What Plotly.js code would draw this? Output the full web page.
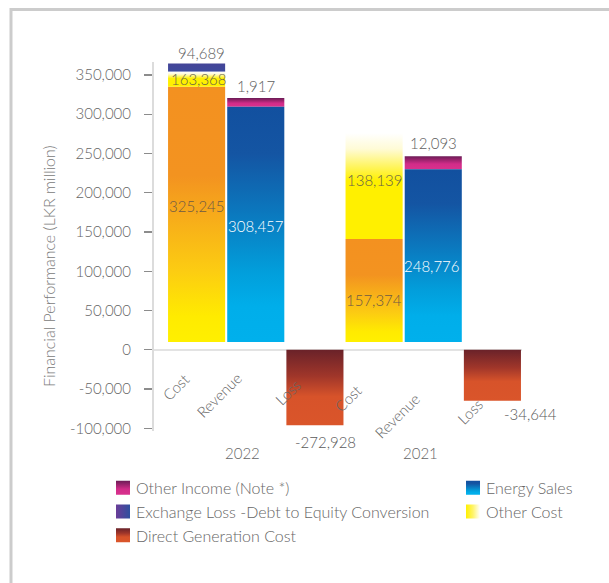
<!DOCTYPE html>
<html>
<head>
<meta charset="utf-8">
<script src="https://cdn.plot.ly/plotly-3.0.1.min.js"></script>
<style>
  html, body { margin: 0; padding: 0; background: #ffffff; }
  #chart { width: 609px; height: 583px; }
</style>
</head>
<body>
<div id="chart"></div>
<script>
// ---------------- DATA ----------------
var categories = ['Cost', 'Revenue', 'Loss', 'Cost', 'Revenue', 'Loss'];
var years = ['2022', '2021'];

// drawn bar heights (LKR million, as drawn in the reference graphic)
var positiveBase = 10000;
var directGenerationCost = [325000, 131000];
var otherCost = [19000, 135000];
var exchangeLoss = [10500, 0];
var energySales = [299500, 220000];
var otherIncome = [11000, 16500];
var loss = [-96000, -65000];

// printed value labels
var directGenerationCostLabels = ['325,245', '157,374'];
var otherCostLabels = ['163,368', '138,139'];
var exchangeLossLabels = ['94,689', ''];
var energySalesLabels = ['308,457', '248,776'];
var otherIncomeLabels = ['1,917', '12,093'];
var lossLabels = ['-272,928', '-34,644'];

// axis ticks
var yTickVals = [-100000, -50000, 0, 50000, 100000, 150000, 200000, 250000, 300000, 350000];
var yTickText = ['-100,000', '-50,000', '0', '50,000', '100,000', '150,000', '200,000', '250,000', '300,000', '350,000'];
var yTitle = 'Financial Performance (LKR million)';

// ---------------- BUILD ----------------
var costX = [0, 3], revX = [1, 4], lossX = [2, 5];
function add(a, b) { return a.map(function (v, i) { return v + b[i]; }); }
var baseArr = [positiveBase, positiveBase];
var otherCostBase = add(baseArr, directGenerationCost);
var exchBase = add(otherCostBase, otherCost);
var incomeBase = add(baseArr, energySales);

var BW = 0.965;
var FONT = 'Lato, "Open Sans", sans-serif';
var WT = 300;
function F(size, color) { return { family: FONT, size: size, color: color, weight: WT }; }

var data = [
  { type: 'bar', name: 'Other Income (Note *)', x: revX, y: otherIncome, base: incomeBase,
    width: BW, marker: { color: '#C02A80', line: { width: 0 } }, legend: 'legend', legendrank: 1, hoverinfo: 'skip' },
  { type: 'bar', name: 'Exchange Loss -Debt to Equity Conversion', x: costX, y: exchangeLoss, base: exchBase,
    width: BW, marker: { color: '#424799', line: { width: 0 } }, legend: 'legend', legendrank: 2, hoverinfo: 'skip' },
  { type: 'bar', name: 'Direct Generation Cost', x: costX, y: directGenerationCost, base: baseArr,
    width: BW, marker: { color: '#F39120', line: { width: 0 } }, legend: 'legend', legendrank: 3, hoverinfo: 'skip' },
  { type: 'bar', name: 'Energy Sales', x: revX, y: energySales, base: baseArr,
    width: BW, marker: { color: '#0B78BE', line: { width: 0 } }, legend: 'legend2', legendrank: 4, hoverinfo: 'skip' },
  { type: 'bar', name: 'Other Cost', x: costX, y: otherCost, base: otherCostBase,
    width: BW, marker: { color: '#FFF000', line: { width: 0 } }, legend: 'legend2', legendrank: 5, hoverinfo: 'skip' },
  { type: 'bar', name: 'Loss', x: lossX, y: loss, base: [0, 0],
    width: BW, marker: { color: '#C84B2A', line: { width: 0 } }, showlegend: false, hoverinfo: 'skip' }
];

var annotations = [];
function lab(text, x, y, opts) {
  var a = { text: text, x: x, y: y, xref: 'x', yref: 'y', showarrow: false,
    font: F(15, '#5e5e5e'), xanchor: 'center', yanchor: 'middle' };
  for (var k in opts) a[k] = opts[k];
  annotations.push(a);
}
// value labels
lab(exchangeLossLabels[0], costX[0], exchBase[0] + exchangeLoss[0], { yanchor: 'bottom', xshift: 5, yshift: 0 });
lab(otherIncomeLabels[0], revX[0], incomeBase[0] + otherIncome[0], { yanchor: 'bottom', yshift: 1 });
lab(otherIncomeLabels[1], revX[1], incomeBase[1] + otherIncome[1], { yanchor: 'bottom', yshift: 2 });
lab(otherCostLabels[0], costX[0], otherCostBase[0] + otherCost[0] / 2, { xshift: 2, font: F(15, '#66624a') });
lab(otherCostLabels[1], costX[1], otherCostBase[1] + otherCost[1] / 2, { xshift: 1, yshift: 6, font: F(15, '#66624a') });
lab(directGenerationCostLabels[0], costX[0], positiveBase + directGenerationCost[0] / 2, { yshift: 8, font: F(15, '#6e5a44') });
lab(directGenerationCostLabels[1], costX[1], positiveBase + directGenerationCost[1] / 2, { yshift: -9.5, font: F(15, '#6e5a44') });
lab(energySalesLabels[0], revX[0], positiveBase + energySales[0] / 2, { yshift: -2, font: { family: FONT, size: 15, color: '#ffffff' } });
lab(energySalesLabels[1], revX[1], positiveBase + energySales[1] / 2, { yshift: -10, xshift: -1, font: { family: FONT, size: 15, color: '#ffffff' } });
lab(lossLabels[0], lossX[0], loss[0], { yanchor: 'top', yshift: -6, xshift: 11, font: { family: FONT, size: 15, color: '#5a5a5a' } });
lab(lossLabels[1], lossX[1], loss[1], { yanchor: 'top', yshift: -2, xshift: 38.5, font: { family: FONT, size: 15, color: '#5a5a5a' } });

// category labels (rotated)
var catShift = [[-21, 37.4], [-37, 45], [-27, 42.5], [-26, 48.3], [-36.7, 65.8], [-22, 61.5]];
categories.forEach(function (c, i) {
  lab(c, i, 0, { textangle: -45, xshift: catShift[i][0], yshift: -catShift[i][1], font: F(15, '#666666') });
});
// year labels
years.forEach(function (yr, i) {
  annotations.push({ text: yr, x: revX[i], xshift: -13, xref: 'x', y: -0.0596, yref: 'paper', showarrow: false,
    xanchor: 'center', yanchor: 'middle', font: F(15, '#666666') });
});
// y axis title
annotations.push({ text: yTitle, textangle: -90, x: -0.288, y: 0.447, xref: 'paper', yref: 'paper', showarrow: false,
  xanchor: 'center', yanchor: 'middle', font: F(16, '#7a7a7a') });

var layout = {
  width: 609, height: 583,
  margin: { l: 154, r: 87, t: 62, b: 152 },
  paper_bgcolor: '#ffffff', plot_bgcolor: 'rgba(0,0,0,0)',
  font: F(15, '#666666'),
  barmode: 'overlay',
  showlegend: true,
  xaxis: { range: [-0.72, 5.5], showticklabels: false, showline: false, zeroline: false, showgrid: false, ticks: '', fixedrange: true },
  yaxis: { range: [-103400, 366500], tickmode: 'array', tickvals: yTickVals, ticktext: yTickText,
    ticks: 'outside', ticklen: 8, tickwidth: 1.3, tickcolor: '#8c8c8c', ticklabelstandoff: 10,
    showline: true, linecolor: '#dcdcdc', linewidth: 2,
    zeroline: true, zerolinecolor: '#e3e3e3', zerolinewidth: 2, showgrid: false,
    tickfont: F(15, '#666666'), fixedrange: true },
  legend: { x: -0.1576, y: -0.108, xanchor: 'left', yanchor: 'top', orientation: 'v', traceorder: 'normal',
    bgcolor: 'rgba(0,0,0,0)', font: F(16, '#666666') },
  legend2: { x: 0.7935, y: -0.108, xanchor: 'left', yanchor: 'top', orientation: 'v', traceorder: 'normal',
    bgcolor: 'rgba(0,0,0,0)', font: F(16, '#666666') },
  shapes: [
    { type: 'rect', xref: 'paper', yref: 'paper', x0: -0.3886, x1: 1.32, y0: -0.566, y1: 1.142,
      line: { color: '#cccccc', width: 3 }, fillcolor: 'rgba(0,0,0,0)', layer: 'below' }
  ],
  annotations: annotations
};

var gradients = {
  gDGC: { dir: 'v', stops: [[0, '#F39120'], [0.35, '#F39320'], [0.72, '#FCCC12'], [0.9, '#FFEB00'], [1, '#FFF000']] },
  gOther: { dir: 'v', stops: [[0, '#FFFFFF'], [0.15, '#FFFBD6'], [0.45, '#FFF000'], [1, '#FFF000']] },
  gExch: { dir: 'v', stops: [[0, '#444598'], [1, '#3D4A9C']] },
  gInc: { dir: 'v', stops: [[0, '#6C1B56'], [0.6, '#D22C89'], [1, '#D8318D']] },
  gES: { dir: 'v', stops: [[0, '#12509F'], [0.2, '#1455A3'], [0.45, '#0B78BE'], [0.7, '#029EDB'], [0.85, '#00AEEA'], [1, '#00B0EC']] },
  gLoss: { dir: 'v', stops: [[0, '#6A2229'], [0.35, '#A0362A'], [0.62, '#D7532A'], [1, '#DA552A']] },
  gExchLeg: { dir: 'h', stops: [[0, '#6B3D98'], [1, '#2E509F']] },
  gOtherLeg: { dir: 'h', stops: [[0, '#FFF000'], [0.5, '#FFF46A'], [1, '#FFFFFF']] }
};
var barGrad = {
  'Other Income (Note *)': 'gInc', 'Exchange Loss -Debt to Equity Conversion': 'gExch',
  'Direct Generation Cost': 'gDGC', 'Energy Sales': 'gES', 'Other Cost': 'gOther', 'Loss': 'gLoss'
};
var legGrad = {
  'Other Income (Note *)': 'gInc', 'Exchange Loss -Debt to Equity Conversion': 'gExchLeg',
  'Direct Generation Cost': 'gLoss', 'Energy Sales': 'gES', 'Other Cost': 'gOtherLeg'
};

function applyGradients(gd) {
  var NS = 'http://www.w3.org/2000/svg';
  var svg = gd.querySelector('svg.main-svg');
  var defs = svg.querySelector('defs');
  if (!defs) { defs = document.createElementNS(NS, 'defs'); svg.insertBefore(defs, svg.firstChild); }
  Object.keys(gradients).forEach(function (id) {
    var g = gradients[id];
    var lg = document.createElementNS(NS, 'linearGradient');
    lg.setAttribute('id', id);
    lg.setAttribute('x1', '0'); lg.setAttribute('y1', '0');
    lg.setAttribute('x2', g.dir === 'h' ? '1' : '0'); lg.setAttribute('y2', g.dir === 'h' ? '0' : '1');
    g.stops.forEach(function (s) {
      var st = document.createElementNS(NS, 'stop');
      st.setAttribute('offset', s[0]); st.setAttribute('stop-color', s[1]);
      lg.appendChild(st);
    });
    defs.appendChild(lg);
  });
  gd.querySelectorAll('.barlayer .trace').forEach(function (g) {
    var cd = g.__data__;
    var tr = cd && cd[0] && cd[0].trace;
    if (!tr) return;
    var gid = barGrad[tr.name];
    if (!gid) return;
    g.querySelectorAll('path').forEach(function (p) { p.style.fill = 'url(#' + gid + ')'; });
  });
  gd.querySelectorAll('g.traces').forEach(function (g) {
    var d = g.__data__;
    var tr = d && d[0] && (d[0].trace || (d[0][0] && d[0][0].trace));
    if (!tr) return;
    var gid = legGrad[tr.name];
    g.querySelectorAll('.legendpoints path').forEach(function (p) {
      p.setAttribute('d', 'M7,7H-7V-7H7Z');
      p.setAttribute('transform', 'translate(27,0)');
      if (gid) p.style.fill = 'url(#' + gid + ')';
    });
  });
}

var gd = document.getElementById('chart');
Plotly.newPlot(gd, data, layout, { displayModeBar: false, staticPlot: true }).then(function () { applyGradients(gd); });
</script>
</body>
</html>
